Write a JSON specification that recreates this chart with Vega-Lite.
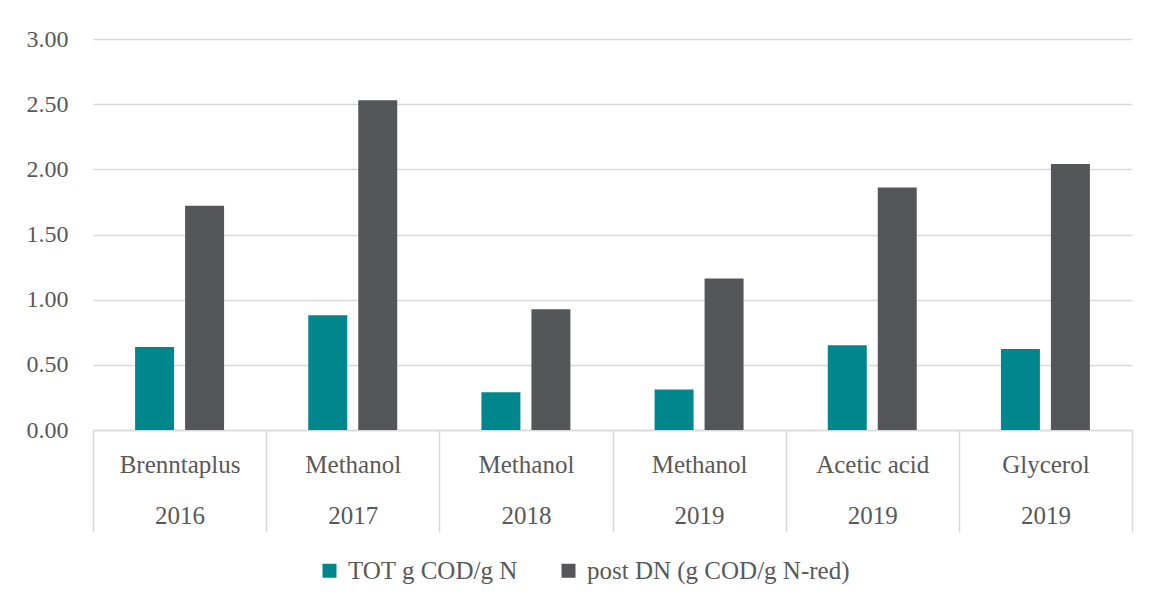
{
  "$schema": "https://vega.github.io/schema/vega-lite/v6.json",
  "width": 1039,
  "height": 391,
  "autosize": {"type": "none"},
  "padding": {"left": 93, "top": 39, "right": 22, "bottom": 173},
  "background": "white",
  "data": {
    "values": [
      {"category": "Brenntaplus 2016", "series": "TOT g COD/g N", "value": 0.636},
      {"category": "Brenntaplus 2016", "series": "post DN (g COD/g N-red)", "value": 1.72},
      {"category": "Methanol 2017", "series": "TOT g COD/g N", "value": 0.88},
      {"category": "Methanol 2017", "series": "post DN (g COD/g N-red)", "value": 2.53},
      {"category": "Methanol 2018", "series": "TOT g COD/g N", "value": 0.29},
      {"category": "Methanol 2018", "series": "post DN (g COD/g N-red)", "value": 0.926},
      {"category": "Methanol 2019", "series": "TOT g COD/g N", "value": 0.31},
      {"category": "Methanol 2019", "series": "post DN (g COD/g N-red)", "value": 1.162},
      {"category": "Acetic acid 2019", "series": "TOT g COD/g N", "value": 0.65},
      {"category": "Acetic acid 2019", "series": "post DN (g COD/g N-red)", "value": 1.861},
      {"category": "Glycerol 2019", "series": "TOT g COD/g N", "value": 0.621},
      {"category": "Glycerol 2019", "series": "post DN (g COD/g N-red)", "value": 2.04}
    ]
  },
  "mark": {"type": "bar"},
  "encoding": {
    "x": {
      "field": "category",
      "type": "nominal",
      "sort": null,
      "scale": {"paddingInner": 0, "paddingOuter": 0},
      "axis": {
        "title": null,
        "labelAngle": 0,
        "labelExpr": "[slice(datum.label, 0, -5), slice(datum.label, -4)]",
        "labelLineHeight": 51,
        "labelBaseline": "top",
        "labelPadding": -80,
        "labelFont": "Liberation Serif",
        "labelFontSize": 25,
        "labelColor": "#595959",
        "labelLimit": 0,
        "tickBand": "extent",
        "tickSize": 102,
        "tickColor": "#D9D9D9",
        "tickWidth": 1.5,
        "domainColor": "#D9D9D9",
        "domainWidth": 1.5,
        "grid": false
      }
    },
    "xOffset": {
      "field": "series",
      "type": "nominal",
      "sort": ["TOT g COD/g N", "post DN (g COD/g N-red)"],
      "scale": {"paddingInner": 0.22, "paddingOuter": 0.842}
    },
    "y": {
      "field": "value",
      "type": "quantitative",
      "scale": {"domain": [0, 3], "nice": false},
      "axis": {
        "title": null,
        "values": [0, 0.5, 1, 1.5, 2, 2.5, 3],
        "format": ".2f",
        "domain": false,
        "ticks": false,
        "labelPadding": 25,
        "labelFont": "Liberation Serif",
        "labelFontSize": 24,
        "labelColor": "#595959",
        "grid": true,
        "gridColor": "#D9D9D9",
        "gridWidth": 1.5
      }
    },
    "color": {
      "field": "series",
      "type": "nominal",
      "sort": ["TOT g COD/g N", "post DN (g COD/g N-red)"],
      "scale": {"range": ["#00878E", "#55565A"]},
      "legend": {
        "title": null,
        "orient": "none",
        "direction": "horizontal",
        "legendX": 224,
        "legendY": 519,
        "symbolType": "square",
        "symbolSize": 196,
        "symbolStrokeWidth": 0,
        "labelOffset": 6,
        "labelLimit": 0,
        "columnPadding": 38,
        "labelFont": "Liberation Serif",
        "labelFontSize": 25,
        "labelColor": "#595959"
      }
    }
  },
  "config": {
    "view": {"stroke": null}
  }
}
